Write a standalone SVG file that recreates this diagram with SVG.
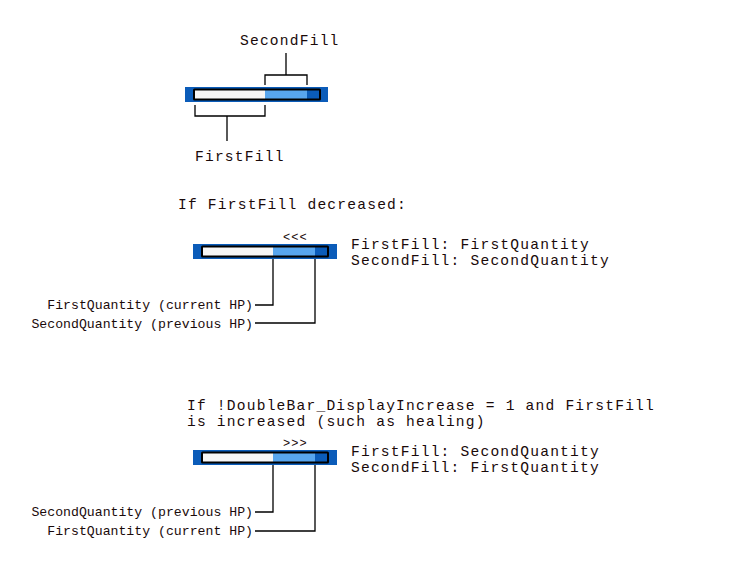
<svg xmlns="http://www.w3.org/2000/svg" width="756" height="562" viewBox="0 0 756 562">
<style>
.t{font-family:"Liberation Mono","DejaVu Sans Mono",monospace;fill:#1a0a0a}
.big{font-size:14.6px;letter-spacing:1.2px}
.small{font-size:13.2px}
.arr{font-size:12px;letter-spacing:1px}
.ln{fill:none;stroke:#000;stroke-width:1.3}
.outer{fill:#0b5cb9}
.frame{fill:#000}
.w{fill:#f6f6f6}
.lb{fill:#58a6ee}
.db{fill:#0b5cb9}
</style>
<rect width="756" height="562" fill="#fff"/>
<g id="bar1">
<rect class="outer" x="185" y="87" width="143" height="15"/>
<rect class="frame" x="193" y="88.5" width="128" height="12" rx="1.5"/>
<rect class="w" x="195" y="90.5" width="70" height="8"/>
<rect class="lb" x="265" y="90.5" width="42" height="8"/>
<rect class="db" x="307" y="90.5" width="12" height="8"/>
</g>
<g id="label-secondfill"><text class="t big" x="240" y="45">SecondFill</text></g>
<g id="label-firstfill"><text class="t big" x="195" y="161">FirstFill</text></g>
<g id="heading1"><text class="t big" x="178" y="209">If FirstFill decreased:</text></g>
<g id="bar2">
<rect class="outer" x="193" y="244" width="144" height="15"/>
<rect class="frame" x="201" y="245.5" width="128" height="12" rx="1.5"/>
<rect class="w" x="203" y="247.5" width="70" height="8"/>
<rect class="lb" x="273" y="247.5" width="42" height="8"/>
<rect class="db" x="315" y="247.5" width="12" height="8"/>
<text class="t arr" x="283" y="240.5">&lt;&lt;&lt;</text>
</g>
<g id="info2">
<text class="t big" x="351" y="248.5">FirstFill: FirstQuantity</text>
<text class="t big" x="351" y="265.3">SecondFill: SecondQuantity</text>
</g>
<g id="labels2">
<text class="t small" x="253" y="308.5" text-anchor="end">FirstQuantity (current HP)</text>
<text class="t small" x="253" y="327.5" text-anchor="end">SecondQuantity (previous HP)</text>
</g>
<g id="heading2">
<text class="t big" x="187" y="409.5">If !DoubleBar_DisplayIncrease = 1 and FirstFill</text>
<text class="t big" x="187" y="426.3">is increased (such as healing)</text>
</g>
<g id="bar3">
<rect class="outer" x="193" y="450" width="144" height="15"/>
<rect class="frame" x="201" y="451.5" width="128" height="12" rx="1.5"/>
<rect class="w" x="203" y="453.5" width="70" height="8"/>
<rect class="lb" x="273" y="453.5" width="42" height="8"/>
<rect class="db" x="315" y="453.5" width="12" height="8"/>
<text class="t arr" x="283" y="447">&gt;&gt;&gt;</text>
</g>
<g id="info3">
<text class="t big" x="351" y="455.5">FirstFill: SecondQuantity</text>
<text class="t big" x="351" y="472.3">SecondFill: FirstQuantity</text>
</g>
<g id="labels3">
<text class="t small" x="253" y="516" text-anchor="end">SecondQuantity (previous HP)</text>
<text class="t small" x="253" y="535" text-anchor="end">FirstQuantity (current HP)</text>
</g>
<g id="connectors">
<path class="ln" d="M265 85V75H307V85M286 75V53"/>
<path class="ln" d="M195 105V116H265V105M227 116V141"/>
<path class="ln" d="M273 259V305H255"/>
<path class="ln" d="M315 259V323H255"/>
<path class="ln" d="M273 465V512H255"/>
<path class="ln" d="M315 465V531H255"/>
</g>
</svg>
